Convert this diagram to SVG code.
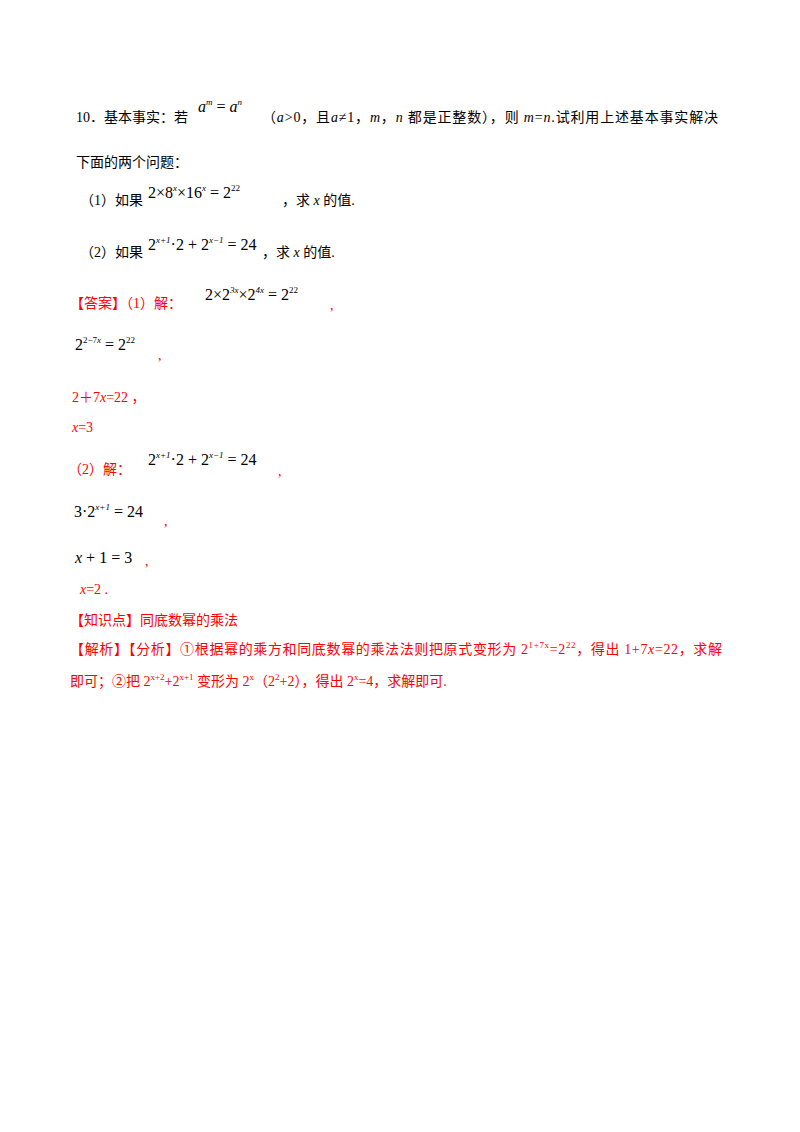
<svg xmlns="http://www.w3.org/2000/svg" width="800" height="1132" viewBox="0 0 800 1132">
<style>
text{font-family:"Liberation Serif","Noto Sans CJK SC",serif;font-size:14px;fill:#000}
.r{fill:#ff0000}
.m{font-size:16px}
.i{font-style:italic}
.s{font-size:9px}
</style>
<rect width="800" height="1132" fill="#fff"/>
<g id="question">
<text x="76" y="122">10．基本事实：若</text>
<text x="198" y="112" class="m"><tspan class="i">a</tspan><tspan class="s i" dy="-7">m</tspan><tspan dy="7"> = </tspan><tspan class="i">a</tspan><tspan class="s i" dy="-7">n</tspan></text>
<text x="262" y="122" textLength="456">（<tspan class="i">a</tspan>&gt;0，且<tspan class="i">a</tspan>≠1，<tspan class="i">m</tspan>，<tspan class="i">n</tspan> 都是正整数），则 <tspan class="i">m</tspan>=<tspan class="i">n</tspan>.试利用上述基本事实解决</text>
<text x="76" y="167">下面的两个问题：</text>
<text x="80" y="205">（1）如果</text>
<text x="148" y="198" class="m">2×8<tspan class="s i" dy="-7">x</tspan><tspan dy="7">×16</tspan><tspan class="s i" dy="-7">x</tspan><tspan dy="7"> = 2</tspan><tspan class="s" dy="-7">22</tspan></text>
<text x="282" y="205">，求 <tspan class="i">x</tspan> 的值.</text>
<text x="80" y="257">（2）如果</text>
<text x="148" y="250" class="m">2<tspan class="s i" dy="-7">x+1</tspan><tspan dy="7">·2 + 2</tspan><tspan class="s i" dy="-7">x−1</tspan><tspan dy="7"> = 24</tspan></text>
<text x="262" y="257">，求 <tspan class="i">x</tspan> 的值.</text>
</g>
<g id="answer">
<text x="70" y="308" class="r">【答案】（1）解：</text>
<text x="205" y="300" class="m">2×2<tspan class="s i" dy="-7">3x</tspan><tspan dy="7">×2</tspan><tspan class="s i" dy="-7">4x</tspan><tspan dy="7"> = 2</tspan><tspan class="s" dy="-7">22</tspan></text>
<text x="330" y="310" class="r">,</text>
<text x="75" y="350" class="m">2<tspan class="s" dy="-7">2−7<tspan class="i">x</tspan></tspan><tspan dy="7"> = 2</tspan><tspan class="s" dy="-7">22</tspan></text>
<text x="158" y="360" class="r">,</text>
<text x="72" y="402" class="r">2＋7<tspan class="i">x</tspan>=22 ，</text>
<text x="72" y="432" class="r"><tspan class="i">x</tspan>=3</text>
<text x="68" y="474" class="r">（2）解：</text>
<text x="148" y="465" class="m">2<tspan class="s i" dy="-7">x+1</tspan><tspan dy="7">·2 + 2</tspan><tspan class="s i" dy="-7">x−1</tspan><tspan dy="7"> = 24</tspan></text>
<text x="278" y="476" class="r">,</text>
<text x="74" y="517" class="m">3·2<tspan class="s i" dy="-7">x+1</tspan><tspan dy="7"> = 24</tspan></text>
<text x="164" y="526" class="r">,</text>
<text x="75" y="563" class="m"><tspan class="i">x</tspan> + 1 = 3</text>
<text x="145" y="566" class="r">,</text>
<text x="80" y="594" class="r"><tspan class="i">x</tspan>=2 .</text>
<text x="70" y="625" class="r">【知识点】同底数幂的乘法</text>
<text x="70" y="654" class="r" textLength="652">【解析】【分析】①根据幂的乘方和同底数幂的乘法法则把原式变形为 2<tspan class="s" dy="-6">1+7x</tspan><tspan dy="6">=2</tspan><tspan class="s" dy="-6">22</tspan><tspan dy="6">，得出 1+7</tspan><tspan class="i">x</tspan>=22，求解</text>
<text x="70" y="686" class="r">即可；②把 2<tspan class="s" dy="-6">x+2</tspan><tspan dy="6">+2</tspan><tspan class="s" dy="-6">x+1</tspan><tspan dy="6"> 变形为 2</tspan><tspan class="s" dy="-6">x</tspan><tspan dy="6">（2</tspan><tspan class="s" dy="-6">2</tspan><tspan dy="6">+2），得出 2</tspan><tspan class="s" dy="-6">x</tspan><tspan dy="6">=4，求解即可.</tspan></text>
</g>
</svg>
